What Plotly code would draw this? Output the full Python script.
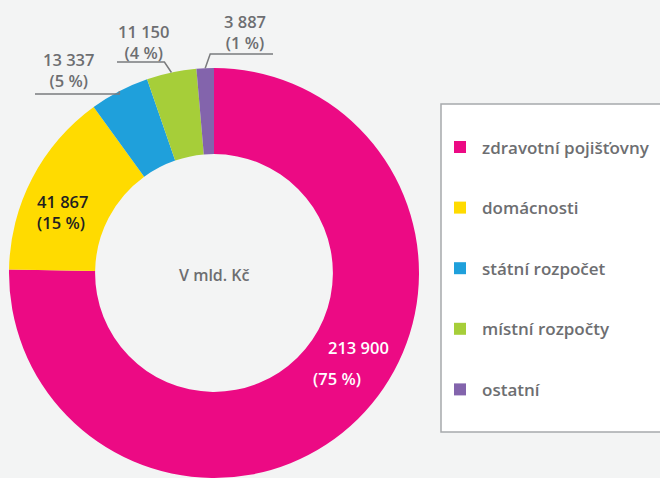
import math
import plotly.graph_objects as go

labels = ["zdravotní pojišťovny", "domácnosti", "státní rozpočet", "místní rozpočty", "ostatní"]
values = [213900, 41867, 13337, 11150, 3887]
value_text = ["213 900", "41 867", "13 337", "11 150", "3 887"]
pct_text = ["(75 %)", "(15 %)", "(5 %)", "(4 %)", "(1 %)"]
colors = ["#EC0A84", "#FFDB00", "#1FA0DB", "#A6CE39", "#8364AC"]

W, H = 660, 478
CX, CY, R = 214, 273, 205
HOLE = 0.58
GREY = "#6D6E71"
FONT = "Open Sans"
LBL = 16.5


def px(x):
    return x / W


def py(y):
    return 1 - y / H


def text_ann(x, y, text, color, xanchor="center", size=LBL, align="center"):
    return dict(x=px(x), y=py(y), xref="paper", yref="paper", text=text, showarrow=False,
                xanchor=xanchor, yanchor="middle", align=align,
                font=dict(family=FONT, size=size, color=color, weight=600))


fig = go.Figure(go.Pie(
    labels=labels, values=values, sort=False, direction="clockwise", rotation=0,
    hole=HOLE, marker=dict(colors=colors, line=dict(width=0)),
    textinfo="none", hoverinfo="label+value+percent", showlegend=False,
    domain=dict(x=[px(CX - R), px(CX + R)], y=[py(CY + R), py(CY - R)]),
))

annotations = []
shapes = []

# center caption
annotations.append(text_ann(CX, 275, "V mld. Kč", GREY, size=16))

# inside labels
annotations.append(text_ann(358, 347, value_text[0], "white"))
annotations.append(text_ann(337, 378, pct_text[0], "white"))
annotations.append(text_ann(35, 212, value_text[1] + "<br>" + pct_text[1], "#231F20",
                            xanchor="left", align="left"))

# outside labels with leader lines
total = sum(values)
cum = 0
mids = []
for v in values:
    mids.append((cum + v / 2) / total * 360)
    cum += v

outside = {
    2: dict(lx=68, ly=70, hx0=35, hy=94, dx=0),
    3: dict(lx=143, ly=42, hx0=117, hy=62, dx=-7),
    4: dict(lx=245, ly=32, hx0=273, hy=54, dx=5),
}
for i, o in outside.items():
    ang = math.radians(mids[i])
    ex = CX + R * math.sin(ang)
    ey = CY - R * math.cos(ang)
    annotations.append(text_ann(o["lx"], o["ly"], value_text[i] + "<br>" + pct_text[i], GREY))
    elbow_x = ex + o["dx"]
    path = f"M {px(o['hx0'])},{py(o['hy'])} L {px(elbow_x)},{py(o['hy'])} L {px(ex)},{py(ey)}"
    shapes.append(dict(type="path", xref="paper", yref="paper", path=path,
                       line=dict(color="#7A7B7D", width=1.5)))

# legend box
shapes.append(dict(type="rect", xref="paper", yref="paper", x0=px(441), x1=px(675), y0=py(432), y1=py(104),
                   fillcolor="white", line=dict(color="#A7A9AC", width=1.5), layer="below"))
for k, (lab, col) in enumerate(zip(labels, colors)):
    yc = 147 + k * 60.6
    shapes.append(dict(type="rect", xref="paper", yref="paper", x0=px(454), x1=px(466),
                       y0=py(yc + 6), y1=py(yc - 6), fillcolor=col, line=dict(width=0)))
    annotations.append(text_ann(480, yc, lab, GREY, xanchor="left", size=17))

fig.update_layout(
    width=W, height=H, margin=dict(l=0, r=0, t=0, b=0),
    paper_bgcolor="#F3F4F4", plot_bgcolor="#F3F4F4",
    annotations=annotations, shapes=shapes,
)

fig.write_html("out.html", config={"displayModeBar": False},
               post_script="document.body.style.margin='0';document.body.style.overflow='hidden';")
